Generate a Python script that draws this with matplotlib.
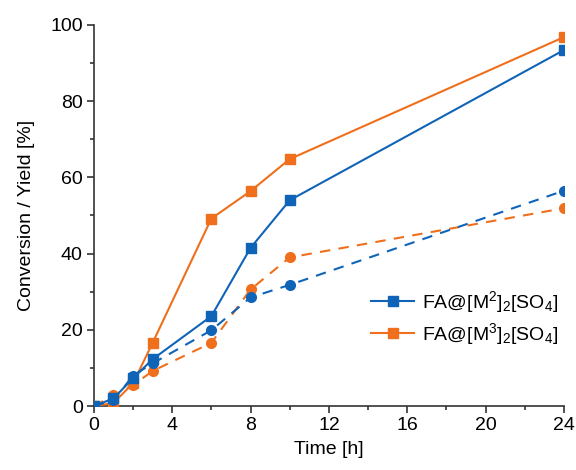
import matplotlib
matplotlib.use("Agg")
import matplotlib.pyplot as plt
from matplotlib.ticker import MultipleLocator

plt.rcParams['font.family'] = ['Liberation Sans', 'DejaVu Sans']
plt.rcParams['mathtext.fontset'] = 'custom'
plt.rcParams['mathtext.rm'] = 'Liberation Sans'
plt.rcParams['mathtext.it'] = 'Liberation Sans'
plt.rcParams['mathtext.default'] = 'regular'

time_h = [0, 1, 2, 3, 6, 8, 10, 24]
m2_conversion = [0, 2.0, 7.3, 12.3, 23.6, 41.5, 54.0, 93.4]
m2_yield = [0, 1.5, 8.0, 11.2, 19.9, 28.5, 31.8, 56.5]
m3_conversion = [0, 0.8, 6.0, 16.6, 49.2, 56.4, 64.8, 96.8]
m3_yield = [0, 2.8, 5.5, 9.2, 16.6, 30.6, 39.0, 51.9]

labels = [r'FA@[M$^2$]$_2$[SO$_4$]', r'FA@[M$^3$]$_2$[SO$_4$]']
blue = '#1064B8'
orange = '#EF6F1C'

fig = plt.figure(figsize=(5.76, 4.70), dpi=100)
ax = fig.add_axes([0.163, 0.136, 0.816, 0.811])

ax.plot(time_h, m3_conversion, '-s', color=orange, lw=1.5, ms=6.5, label=labels[1], zorder=3)
ax.plot(time_h, m3_yield, '--o', color=orange, lw=1.5, ms=7, dashes=(5, 4), zorder=3)
ax.plot(time_h, m2_conversion, '-s', color=blue, lw=1.5, ms=6.5, label=labels[0], zorder=4)
ax.plot(time_h, m2_yield, '--o', color=blue, lw=1.5, ms=7, dashes=(5, 4), zorder=4)

ax.set_xlim(0, 24)
ax.set_ylim(0, 100)
ax.xaxis.set_major_locator(MultipleLocator(4))
ax.xaxis.set_minor_locator(MultipleLocator(2))
ax.yaxis.set_major_locator(MultipleLocator(20))
ax.yaxis.set_minor_locator(MultipleLocator(10))
ax.spines['top'].set_visible(False)
ax.spines['right'].set_visible(False)
for s in ('left', 'bottom'):
    ax.spines[s].set_color('#333333')
    ax.spines[s].set_linewidth(1.2)
ax.tick_params(which='major', direction='out', length=5, width=1.2, pad=3, labelsize=14,
               colors='#333333', labelcolor='black')
ax.tick_params(which='minor', direction='out', length=3, width=1.2, colors='#333333')
ax.set_xlabel('Time [h]', fontsize=14, labelpad=5)
ax.set_ylabel('Conversion / Yield [%]', fontsize=14, labelpad=11)

h, l = ax.get_legend_handles_labels()
ax.legend([h[1], h[0]], [l[1], l[0]], loc='lower right', bbox_to_anchor=(1.025, 0.11),
          frameon=False, fontsize=14, handlelength=2.2, handletextpad=0.4, labelspacing=0.3,
          borderpad=0.4)

fig.savefig('out.png', dpi=100)
